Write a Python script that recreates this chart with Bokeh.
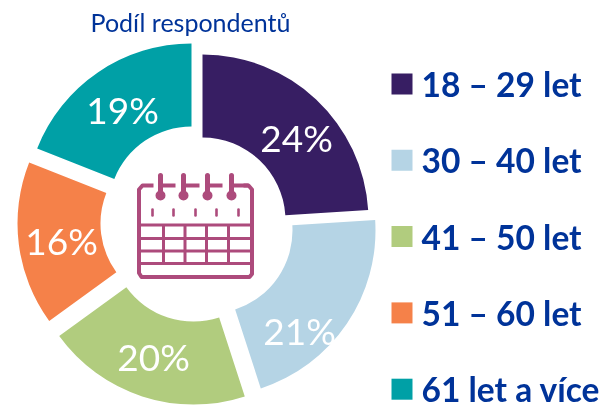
import math
from bokeh.plotting import figure
from bokeh.models import ColumnDataSource
from bokeh.core.properties import value
from bokeh.embed import file_html
from bokeh.resources import INLINE

# ---- data
categories = ["18 – 29 let", "30 – 40 let", "41 – 50 let", "51 – 60 let", "61 let a více"]
shares = [24, 21, 20, 16, 19]
title_text = "Podíl respondentů"

# ---- style and layout
colors = ["#371E63", "#B5D4E5", "#B1CC7E", "#F58149", "#00A0A6"]
TXT_BLUE = "#003399"
ICON = "#AD4B7C"
W, H = 608, 405
CX, CY = 195.5, 224.0
R_OUT, R_IN = 166, 83
explode_dx = [6.5, 13.5, -2.5, -12.5, -4.5]
explode_dy = [-4.0, 6.0, 14.0, -1.0, -15.0]
label_dx = [100.5, 103.5, -42.5, -134.5, -73.5]
label_dy = [-87.5, 105.5, 131.5, 15.5, -115.5]
legend_top = 73
legend_step = 76.3
swatch = 21


def Y(v):
    return H - v


p = figure(width=W, height=H, x_range=(0, W), y_range=(0, H), toolbar_location=None,
           output_backend="svg", min_border=0, outline_line_color=None,
           background_fill_color="white", border_fill_color="white",
           styles={"position": "fixed", "left": "0px", "top": "0px"})
p.axis.visible = False
p.grid.visible = False

# ---- donut
total = sum(shares)
start, end, acc = [], [], 0
for s in shares:
    start.append(math.pi / 2 - acc / total * 2 * math.pi)
    acc += s
    end.append(math.pi / 2 - acc / total * 2 * math.pi)

src = ColumnDataSource(dict(
    x=[CX + d for d in explode_dx],
    y=[Y(CY + d) for d in explode_dy],
    start=start, end=end, color=colors))
p.annular_wedge(x="x", y="y", inner_radius=R_IN, outer_radius=R_OUT, start_angle="start",
                end_angle="end", direction="clock", fill_color="color", line_color=None,
                source=src)

p.text(x=[CX + d for d in label_dx], y=[Y(CY + d) for d in label_dy],
       text=[f"{s}%" for s in shares], text_color="white", text_font=value("Lato"),
       text_font_size="37px", text_align="center", text_baseline="middle")

# ---- title
p.text(x=[190], y=[Y(21)], text=[title_text], text_color=TXT_BLUE, text_font=value("Lato"),
       text_font_size="25px", text_align="center", text_baseline="middle")

# ---- legend
tops = [legend_top + i * legend_step for i in range(len(categories))]
p.quad(left=391, right=391 + swatch, top=[Y(t) for t in tops], bottom=[Y(t + swatch) for t in tops],
       fill_color=colors, line_color=None)
p.text(x=421, y=[Y(t + 10.5) for t in tops], text=categories, text_color=TXT_BLUE,
       text_font=value("Lato"), text_font_style="bold", text_font_size="33.5px",
       text_align="left", text_baseline="middle")

# ---- calendar icon
L, Rr, T, B = 138.5, 251.5, 185.0, 276.5
rings = [160, 183, 207, 231]
frame_x = [153, 142, 138.5, L, 141, 249, Rr, 251.5, 248, 243]
frame_y = [T, T, T + 4, B - 4, B, B, B - 3, T + 4, T, T]
p.line(frame_x, [Y(v) for v in frame_y], line_color=ICON, line_width=4, line_join="round")
for x, x2 in zip(rings, [175, 199, 222, 248]):
    p.line([x, x], [Y(175), Y(197)], line_color=ICON, line_width=5, line_cap="round")
    p.line([x, x2], [Y(T), Y(T)], line_color=ICON, line_width=4)
p.scatter(rings, [Y(195)] * 4, marker="circle", size=10, fill_color=ICON, line_color=None)
for x in [152, 173, 195, 216, 238]:
    p.line([x, x], [Y(209), Y(215)], line_color=ICON, line_width=2.6, line_cap="round")
for y in [224.5, 238, 250.5, 263]:
    p.line([L, Rr], [Y(y), Y(y)], line_color=ICON, line_width=3)
for x in [163, 184.5, 206, 228]:
    p.line([x, x], [Y(224.5), Y(263)], line_color=ICON, line_width=3)

open("out.html", "w").write(file_html(p, INLINE))
